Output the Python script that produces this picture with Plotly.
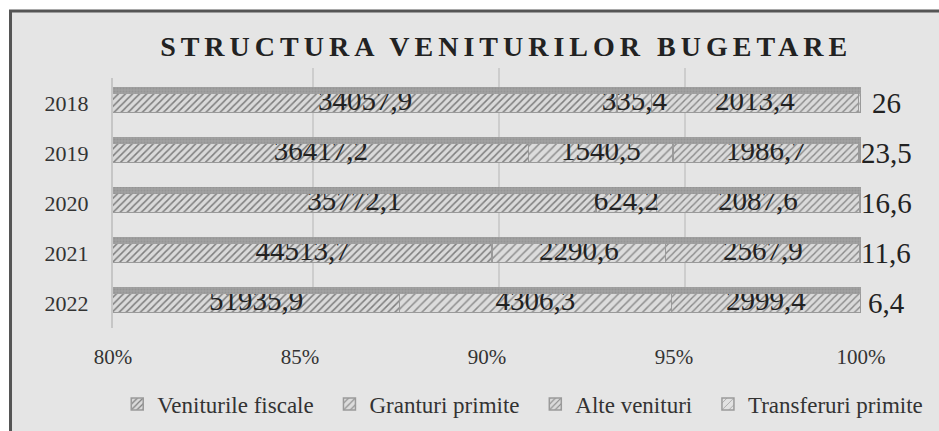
import plotly.graph_objects as go

years = ["2018", "2019", "2020", "2021", "2022"]
series_names = ["Veniturile fiscale", "Granturi primite", "Alte venituri", "Transferuri primite"]
fiscal = [34057.9, 36417.2, 35772.1, 44513.7, 51935.9]
granturi = [335.4, 1540.5, 624.2, 2290.6, 4306.3]
alte = [2013.4, 1986.7, 2087.6, 2567.9, 2999.4]
transfer = [26, 23.5, 16.6, 11.6, 6.4]
x_ticks = [80, 85, 90, 95, 100]
title_text = "STRUCTURA VENITURILOR BUGETARE"

series = [fiscal, granturi, alte, transfer]
totals = [sum(v) for v in zip(*series)]

FONT = "Liberation Serif, Times New Roman, serif"
XMIN = x_ticks[0]

def fmt(v):
    if float(v).is_integer():
        return str(int(v))
    return f"{v:.1f}".replace(".", ",")

fig = go.Figure()

# empty trace so the back-wall grid subplot (x / y) exists
fig.add_trace(go.Scatter(x=[], y=[], xaxis="x", yaxis="y", showlegend=False, hoverinfo="skip"))

patterns = [
    dict(shape="/", size=5, solidity=0.3, fgcolor="#7e7e7e", bgcolor="#dadada"),
    dict(shape="/", size=6, solidity=0.25, fgcolor="#8e8e8e", bgcolor="#dcdcdc"),
    dict(shape="/", size=5, solidity=0.28, fgcolor="#888888", bgcolor="#dadada"),
    dict(shape="/", size=6, solidity=0.2, fgcolor="#aaaaaa", bgcolor="#e2e2e2"),
]

for name, vals, pat in zip(series_names, series, patterns):
    fig.add_trace(go.Bar(
        y=years, x=vals, orientation="h", name=name + "\u00a0",
        xaxis="x2", yaxis="y2",
        width=0.38, offset=-0.19,
        marker=dict(color="#dadada", pattern=dict(fillmode="replace", **pat),
                    line=dict(color="#9a9a9a", width=1.5)),
        hoverinfo="skip",
    ))

# top face of the pseudo-3D bars
fig.add_trace(go.Bar(
    y=years, x=totals, orientation="h", xaxis="x2", yaxis="y3", showlegend=False,
    width=0.14, offset=-0.33,
    marker=dict(color="#9c9c9c", line=dict(width=0),
                pattern=dict(shape=".", size=3, solidity=0.3, fgcolor="#8a8a8a", bgcolor="#a0a0a0")),
    hoverinfo="skip",
))

# value labels (centred in the visible part of each segment)
annotations = []
cum = [0.0] * len(years)
for idx, vals in enumerate(series):
    xs, texts = [], []
    for i, v in enumerate(vals):
        start = round(cum[i] / totals[i] * 100, 6)
        end = round((cum[i] + v) / totals[i] * 100, 6)
        cum[i] += v
        if idx < 3:
            xs.append((max(start, XMIN) + end) / 2)
            texts.append(fmt(v))
        else:
            annotations.append(dict(
                x=min(end, x_ticks[-1]), y=i, xref="x2", yref="y2",
                text=fmt(v), showarrow=False, xanchor="center", yanchor="middle",
                xshift=25, font=dict(family=FONT, size=29, color="#222222"),
            ))
    if xs:
        fig.add_trace(go.Scatter(
            y=years, x=xs, mode="text", text=texts, textposition="middle center",
            xaxis="x2", yaxis="y2",
            textfont=dict(family=FONT, size=29, color="#222222"),
            showlegend=False, cliponaxis=False, hoverinfo="skip",
        ))

cat_axis = dict(type="category", categoryorder="array", categoryarray=years,
                range=[len(years) - 0.5, -0.5])

fig.update_layout(
    width=939, height=431,
    margin=dict(l=113, r=60, t=68, b=103, autoexpand=False),
    paper_bgcolor="white", plot_bgcolor="rgba(0,0,0,0)",
    barmode="stack", barnorm="percent",
    font=dict(family=FONT, color="#333333"),
    title=dict(
        text=f'<b><span style="letter-spacing:5px">{title_text}</span></b>',
        x=0.539, xanchor="center", y=0.893, yanchor="middle",
        font=dict(family=FONT, size=28, color="#222222"),
    ),
    # back-wall grid
    xaxis=dict(
        domain=[0.0183, 0.9896], anchor="y",
        range=[x_ticks[0], x_ticks[-1]], tickvals=x_ticks,
        showgrid=True, gridcolor="#cdcdcd", gridwidth=1.5,
        showticklabels=False, zeroline=False, showline=False, ticks="", automargin=False,
    ),
    yaxis=dict(
        domain=[0.1077, 1], anchor="x", range=[0, 1],
        showgrid=False, showticklabels=False, zeroline=False, showline=False, automargin=False,
    ),
    # bars
    xaxis2=dict(
        domain=[0, 0.9765], anchor="y2",
        range=[x_ticks[0], x_ticks[-1]], tickvals=x_ticks,
        ticktext=[f"{t}%" for t in x_ticks],
        showgrid=False, zeroline=False, showline=False, ticks="", automargin=False,
        ticklabelstandoff=14,
        tickfont=dict(family=FONT, size=21, color="#333333"),
    ),
    yaxis2=dict(
        **cat_axis, domain=[0, 0.9615], anchor="x2", automargin=False,
        showgrid=False, zeroline=False, showline=True, linecolor="#c6c6c6", linewidth=2,
        ticks="", ticklabelstandoff=18,
        tickfont=dict(family=FONT, size=22, color="#333333"),
    ),
    yaxis3=dict(
        **cat_axis, overlaying="y2", anchor="x2",
        showgrid=False, zeroline=False, showticklabels=False, showline=False,
    ),
    legend=dict(
        orientation="h", x=-0.001, xanchor="left", y=-0.2923, yanchor="middle",
        indentation=5,
        font=dict(family=FONT, size=23, color="#333333"),
        bgcolor="rgba(0,0,0,0)", traceorder="normal",
    ),
    annotations=annotations,
    shapes=[dict(
        type="rect", xref="paper", yref="paper", layer="below",
        x0=-0.1338, x1=1.093, y0=-0.45, y1=1.2192,
        fillcolor="#e5e5e5", line=dict(color="#555555", width=3),
    )],
)

fig.write_html(
    "out.html",
    config={"displayModeBar": False},
    post_script="document.body.style.margin='0';document.body.style.overflow='hidden';",
)
